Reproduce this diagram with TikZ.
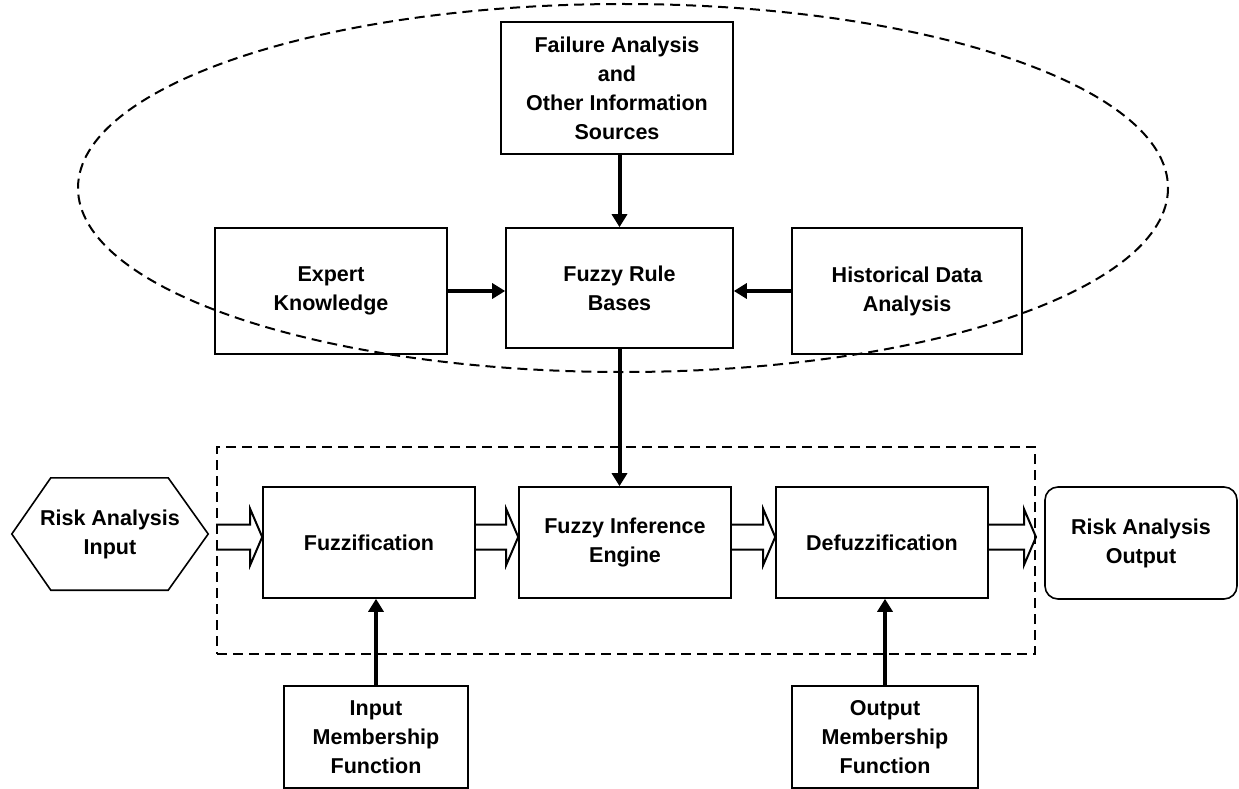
\documentclass[tikz,border=0pt]{standalone}
\usepackage{fontspec}
\setmainfont{Liberation Sans}
\usetikzlibrary{calc,arrows.meta}
\begin{document}
\begin{tikzpicture}[x=1pt,y=-1pt,
  box/.style={draw, line width=1.6pt, align=center, inner sep=0pt,
    font=\bfseries\fontsize{21.5}{29}\selectfont},
  txt/.style={align=center, inner sep=0pt, font=\bfseries\fontsize{21.5}{29}\selectfont},
  conn/.style={line width=4pt, -{Triangle[length=13pt,width=15pt]}},
  dashline/.style={line width=2pt, dash pattern=on 10pt off 6pt},
  blockarrow/.style={line width=2pt, line join=miter,
    to path={let \p1=(\tikztostart), \p2=(\tikztotarget) in
      (\x1,\y1+12.5pt) -- (\x2-12pt,\y1+12.5pt) -- (\x2-12pt,\y1+28pt) -- (\x2,\y1)
      -- (\x2-12pt,\y1-28pt) -- (\x2-12pt,\y1-12.5pt) -- (\x1,\y1-12.5pt)}}
]
\useasboundingbox (0,0) rectangle (1239,789);

% dashed ellipse (knowledge sources)
\draw[dashline] (623,188) ellipse [x radius=545, y radius=184];

% upper boxes
\node[box, minimum width=232, minimum height=132] (fail) at (617,88)
  {Failure Analysis\\and\\Other Information\\Sources};
\node[box, minimum width=227, minimum height=120] (frb) at (619.5,288) {Fuzzy Rule\\Bases};
\node[box, minimum width=232, minimum height=126] (expert) at (331,291) {Expert\\Knowledge};
\node[box, minimum width=230, minimum height=126] (hist) at (907,291) {Historical Data\\Analysis};

% dashed inference system frame
\node[dashline, draw, minimum width=818, minimum height=207, inner sep=0pt] (sys) at (626,550.5) {};

% process boxes
\node[box, minimum width=212, minimum height=111] (fuzz) at (369,542.5) {Fuzzification};
\node[box, minimum width=212, minimum height=111] (inf) at (625,542.5) {Fuzzy Inference\\Engine};
\node[box, minimum width=212, minimum height=111] (defuzz) at (882,542.5) {Defuzzification};

% membership function boxes
\node[box, minimum width=184, minimum height=102] (inmf) at (376,737) {Input\\Membership\\Function};
\node[box, minimum width=186, minimum height=102] (outmf) at (885,737) {Output\\Membership\\Function};

% input hexagon
\node[txt, minimum width=196, minimum height=112] (in) at (110,534) {Risk Analysis\\Input};
\draw[line width=1.6pt, line join=miter] (in.west) -- ($(in.north west)+(39,0)$) -- ($(in.north east)+(-40,0)$)
  -- (in.east) -- ($(in.south east)+(-40,0)$) -- ($(in.south west)+(39,0)$) -- cycle;

% output rounded box
\node[box, rounded corners=13pt, minimum width=192, minimum height=112] (out) at (1141,543) {Risk Analysis\\Output};

% connectors
\draw[conn] (frb.north |- fail.south) -- (frb.north);
\draw[conn] (expert.east) -- (expert.east -| frb.west);
\draw[conn] (hist.west) -- (hist.west -| frb.east);
\draw[conn] (frb.south) -- (frb.south |- inf.north);
\draw[conn] (inmf.north) -- (inmf.north |- fuzz.south);
\draw[conn] (outmf.north) -- (outmf.north |- defuzz.south);

% block arrows
\coordinate (ay) at (0,537);
\draw[blockarrow] (sys.west |- ay) to (fuzz.west |- ay);
\draw[blockarrow] (fuzz.east |- ay) to (inf.west |- ay);
\draw[blockarrow] (inf.east |- ay) to (defuzz.west |- ay);
\draw[blockarrow] (defuzz.east |- ay) to (sys.east |- ay);
\end{tikzpicture}
\end{document}
